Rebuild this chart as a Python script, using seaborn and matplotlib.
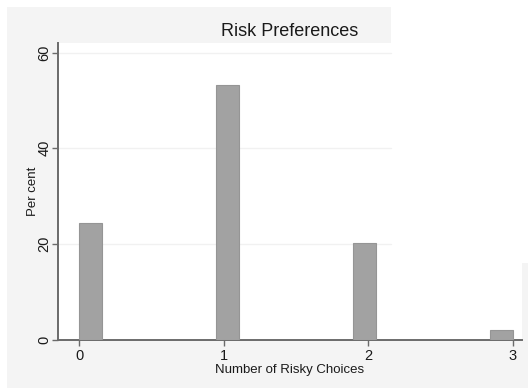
import matplotlib
matplotlib.use("Agg")
import matplotlib.pyplot as plt
import seaborn as sns
from matplotlib.patches import Rectangle

# Data
choices = [0, 1, 2, 3]
percent = [24.3, 53.3, 20.1, 2.0]
yticks = [0, 20, 40, 60]
xticks = [0, 1, 2, 3]
title = "Risk Preferences"
xlabel = "Number of Risky Choices"
ylabel = "Per cent"

sns.set_theme(style="white")
plt.rcParams['font.family'] = ['Liberation Sans', 'DejaVu Sans']

W, H = 528, 389
fig = plt.figure(figsize=(W / 100, H / 100), dpi=100, facecolor="white")

def px(x0, y0, x1, y1):
    return (x0 / W, (H - y1) / H, (x1 - x0) / W, (y1 - y0) / H)

gray = "#f4f4f4"
x0, y0, w, h = px(7, 7, 528, 388)
fig.patches.append(Rectangle((x0, y0), w, h, transform=fig.transFigure,
                             facecolor=gray, edgecolor="none", zorder=-2))
x0, y0, w, h = px(391, 0, 528, 263)
fig.patches.append(Rectangle((x0, y0), w, h, transform=fig.transFigure,
                             facecolor="white", edgecolor="none", zorder=-1))

ax = fig.add_axes(px(58, 43, 522, 339.5))
ax.set_facecolor("white")

sns.histplot(x=choices, weights=percent, bins=19, binrange=(0, 3),
             stat="count", color="#a2a2a2", edgecolor="#959595",
             linewidth=0.8, alpha=1, ax=ax, zorder=3)

ax.set_xlim(-0.147, 3.064)
ax.set_ylim(0, 62)
ax.set_xticks(xticks)
ax.set_yticks(yticks)
ax.set_yticklabels([str(v) for v in yticks], rotation=90, va="center")

for v in yticks[1:]:
    ax.axhline(v, xmin=0, xmax=(391 - 58) / 464, color="#f1f1f1",
               linewidth=1.0, zorder=1)

for side in ["top", "right"]:
    ax.spines[side].set_visible(False)
for side in ["left", "bottom"]:
    ax.spines[side].set_color("#6a6a6a")
    ax.spines[side].set_linewidth(1.4)

ax.tick_params(axis="both", which="major", direction="out", length=4,
               width=1.0, color="#6a6a6a", labelsize=10.5, labelcolor="#1a1a1a",
               left=True, bottom=True)
ax.tick_params(axis="x", pad=2.5)
ax.tick_params(axis="y", pad=0.8)

ax.set_xlabel(xlabel, fontsize=9.5, color="#1a1a1a", labelpad=1)
ax.set_ylabel(ylabel, fontsize=9.5, color="#1a1a1a", labelpad=-1.5)
ax.set_title(title, fontsize=13, color="#1a1a1a", pad=5)

fig.savefig("out.png", dpi=100, facecolor="white")
